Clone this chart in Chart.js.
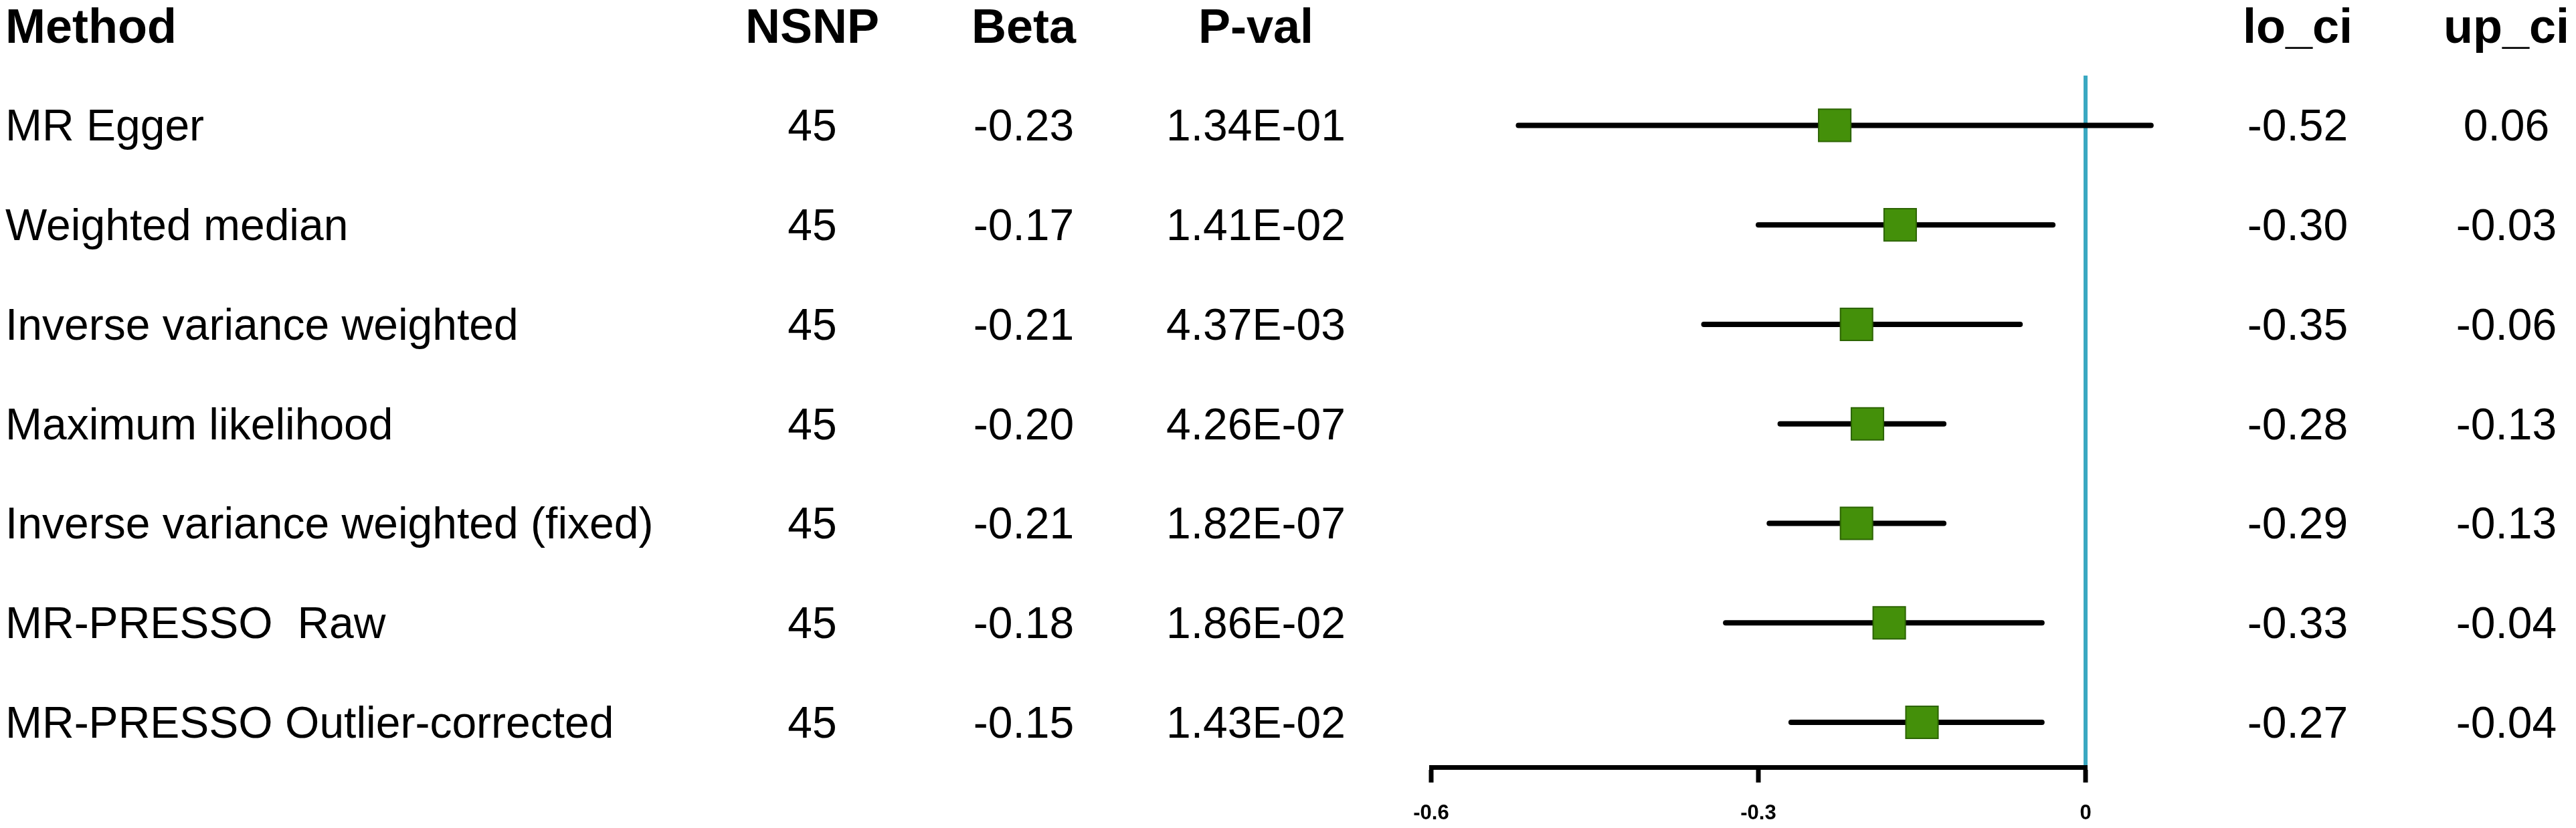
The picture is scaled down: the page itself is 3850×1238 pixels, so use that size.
<!DOCTYPE html>
<html>
<head>
<meta charset="utf-8">
<script src="https://cdn.jsdelivr.net/npm/chart.js@4.4.1/dist/chart.umd.min.js"></script>
<style>
  html, body { margin: 0; padding: 0; background: #fff; }
  #wrap { position: relative; width: 3850px; height: 1238px; overflow: hidden; }
  #forest { position: absolute; left: 0; top: 0; }
  .cell {
    position: absolute;
    font-family: "Liberation Sans", Arial, sans-serif;
    font-size: 66px;
    line-height: 1;
    color: #000;
    white-space: pre;
    transform: translateY(-50%);
  }
  .cell.head { font-weight: bold; font-size: 72px; }
  .cell.center { transform: translate(-50%, -50%); text-align: center; }
</style>
</head>
<body>
<div id="wrap">
  <canvas id="forest" width="3850" height="1238"></canvas>
</div>
<script>
const headers = ['Method', 'NSNP', 'Beta', 'P-val', 'lo_ci', 'up_ci'];
const methods = [
  'MR Egger',
  'Weighted median',
  'Inverse variance weighted',
  'Maximum likelihood',
  'Inverse variance weighted (fixed)',
  'MR-PRESSO  Raw',
  'MR-PRESSO Outlier-corrected'
];
const nsnp = [45, 45, 45, 45, 45, 45, 45];
const beta = [-0.23, -0.17, -0.21, -0.20, -0.21, -0.18, -0.15];
const pval = ['1.34E-01', '1.41E-02', '4.37E-03', '4.26E-07', '1.82E-07', '1.86E-02', '1.43E-02'];
const loCi = [-0.52, -0.30, -0.35, -0.28, -0.29, -0.33, -0.27];
const upCi = [0.06, -0.03, -0.06, -0.13, -0.13, -0.04, -0.04];
const xTickValues = [-0.6, -0.3, 0];
const xTickLabels = ['-0.6', '-0.3', '0'];

const FONT = '"Liberation Sans", Arial, sans-serif';
const BLUE = '#3aa8c1';

// one black segment per method, from lo_ci to up_ci
const ciSets = methods.map((m, i) => ({
  type: 'line',
  label: m,
  data: [{ x: loCi[i], y: i }, { x: upCi[i], y: i }],
  showLine: true,
  borderColor: '#000',
  borderWidth: 8,
  borderCapStyle: 'round',
  pointRadius: 0,
  clip: false,
  order: 1
}));

const pointSet = {
  label: 'Beta',
  data: beta.map((b, i) => ({ x: b, y: i })),
  pointStyle: 'rect',
  pointRadius: 34,
  backgroundColor: '#44900a',
  borderColor: '#2c6402',
  borderWidth: 2,
  clip: false,
  order: 0
};

const chart = new Chart(document.getElementById('forest'), {
  type: 'scatter',
  data: { datasets: [...ciSets, pointSet] },
  options: {
    responsive: false,
    animation: false,
    layout: { padding: { top: 113, left: 2139, right: 733, bottom: 0 } },
    plugins: { legend: { display: false }, tooltip: { enabled: false } },
    scales: {
      x: {
        type: 'linear',
        min: -0.6,
        max: 0,
        afterBuildTicks: (scale) => {
          scale.ticks = xTickValues.map(v => ({ value: v }));
        },
        afterFit: (scale) => {
          scale.height = 91; // keeps the axis line at the reference height
        },
        ticks: {
          color: '#000',
          padding: 28,
          maxRotation: 0,
          font: { family: FONT, size: 31, weight: 'bold' },
          callback: (v) => xTickLabels[xTickValues.findIndex(t => Math.abs(t - v) < 1e-9)]
        },
        grid: {
          drawOnChartArea: true,
          color: (c) => (c.tick && Math.abs(c.tick.value) < 1e-9 ? BLUE : 'rgba(0,0,0,0)'),
          lineWidth: 6,
          tickColor: '#000',
          tickWidth: 7,
          tickLength: 23
        },
        border: { display: true, color: '#000', width: 7 }
      },
      y: {
        type: 'linear',
        display: false,
        reverse: true,
        min: -0.5,
        max: 6.45
      }
    }
  }
});

// table text, placed on the rows of the y scale
const wrap = document.getElementById('wrap');
const yScale = chart.scales.y;
const columns = [
  { x: 8, center: false, values: methods },
  { x: 1214, center: true, values: nsnp.map(String) },
  { x: 1530, center: true, values: beta.map(v => v.toFixed(2)) },
  { x: 1877, center: true, values: pval },
  { x: 3434, center: true, values: loCi.map(v => v.toFixed(2)) },
  { x: 3746, center: true, values: upCi.map(v => v.toFixed(2)) }
];

function addCell(text, x, y, head, center) {
  const d = document.createElement('div');
  d.className = 'cell' + (head ? ' head' : '') + (center ? ' center' : '');
  d.textContent = text;
  d.style.left = x + 'px';
  d.style.top = y + 'px';
  wrap.appendChild(d);
}

columns.forEach((col, c) => {
  addCell(headers[c], col.x, yScale.getPixelForValue(-1), true, col.center);
  col.values.forEach((v, i) => {
    addCell(v, col.x, yScale.getPixelForValue(i), false, col.center);
  });
});
</script>
</body>
</html>
